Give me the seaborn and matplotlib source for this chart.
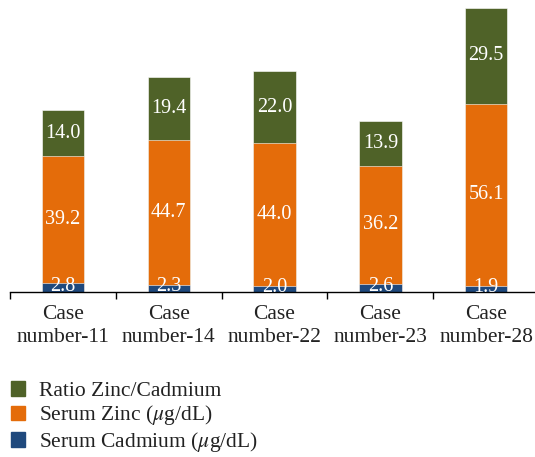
import matplotlib
matplotlib.use("Agg")
import matplotlib.pyplot as plt
import pandas as pd
import seaborn as sns
from matplotlib.patches import Patch

cases = ["Case\nnumber-11", "Case\nnumber-14", "Case\nnumber-22", "Case\nnumber-23", "Case\nnumber-28"]
cadmium = [2.8, 2.3, 2.0, 2.6, 1.9]
zinc = [39.2, 44.7, 44.0, 36.2, 56.1]
ratio = [14.0, 19.4, 22.0, 13.9, 29.5]

colors = {
    "ratio": "#4F6228",
    "zinc": "#E46C0A",
    "cadmium": "#1F497D",
}

df = pd.DataFrame({"case": cases, "cadmium": cadmium, "zinc": zinc, "ratio": ratio})
df["zinc_top"] = df["cadmium"] + df["zinc"]
df["total"] = df["zinc_top"] + df["ratio"]

sns.set_theme(style="white")
plt.rcParams["font.family"] = ["Liberation Serif", "DejaVu Serif"]
plt.rcParams["mathtext.fontset"] = "stix"

fig = plt.figure(figsize=(5.35, 4.57), dpi=100)
ax = fig.add_axes([0.0187, 0.361, 0.989, 0.639])

# stacked bars: draw the cumulative totals back to front
for col, key in [("total", "ratio"), ("zinc_top", "zinc"), ("cadmium", "cadmium")]:
    sns.barplot(data=df, x="case", y=col, order=cases, color=colors[key],
                width=0.40, saturation=1, edgecolor="white", linewidth=0.4, ax=ax)

# segment labels
lab = dict(ha="center", va="center", color="white", fontsize=14.5)
for i, row in df.iterrows():
    ax.text(i, row["cadmium"] / 2 + 0.4, f"{row['cadmium']:.1f}", **lab)
    ax.text(i, row["cadmium"] + row["zinc"] / 2, f"{row['zinc']:.1f}", **lab)
    ax.text(i, row["zinc_top"] + row["ratio"] / 2, f"{row['ratio']:.1f}", **lab)

ax.set_xlim(-0.5, len(cases) - 0.5)
ax.set_ylim(0, 90)
ax.set_xlabel("")
ax.set_ylabel("")
ax.set_yticks([])
for side in ["top", "right", "left"]:
    ax.spines[side].set_visible(False)
ax.spines["bottom"].set_color("black")
ax.spines["bottom"].set_linewidth(1.0)

# ticks at category boundaries, labels at centres
ax.set_xticks([i - 0.5 for i in range(len(cases) + 1)])
ax.set_xticklabels([])
ax.set_xticks(range(len(cases)), minor=True)
ax.set_xticklabels(cases, minor=True, fontsize=15.5, color="#222222", linespacing=1.3)
ax.tick_params(axis="x", which="major", direction="out", length=5, width=1, color="black", bottom=True)
ax.tick_params(axis="x", which="minor", length=0, pad=9)

handles = [
    Patch(color=colors["ratio"], label="Ratio Zinc/Cadmium"),
    Patch(color=colors["zinc"], label=r"Serum Zinc ($\mu$g/dL)"),
    Patch(color=colors["cadmium"], label=r"Serum Cadmium ($\mu$g/dL)"),
]
fig.legend(handles=handles, loc="upper left", bbox_to_anchor=(0.0, 0.19), frameon=False,
           fontsize=15.5, handlelength=0.68, handleheight=0.68, handletextpad=0.65,
           labelspacing=0.12, borderpad=0.2, borderaxespad=0.3, labelcolor="#222222")

fig.savefig("out.png", dpi=100)
